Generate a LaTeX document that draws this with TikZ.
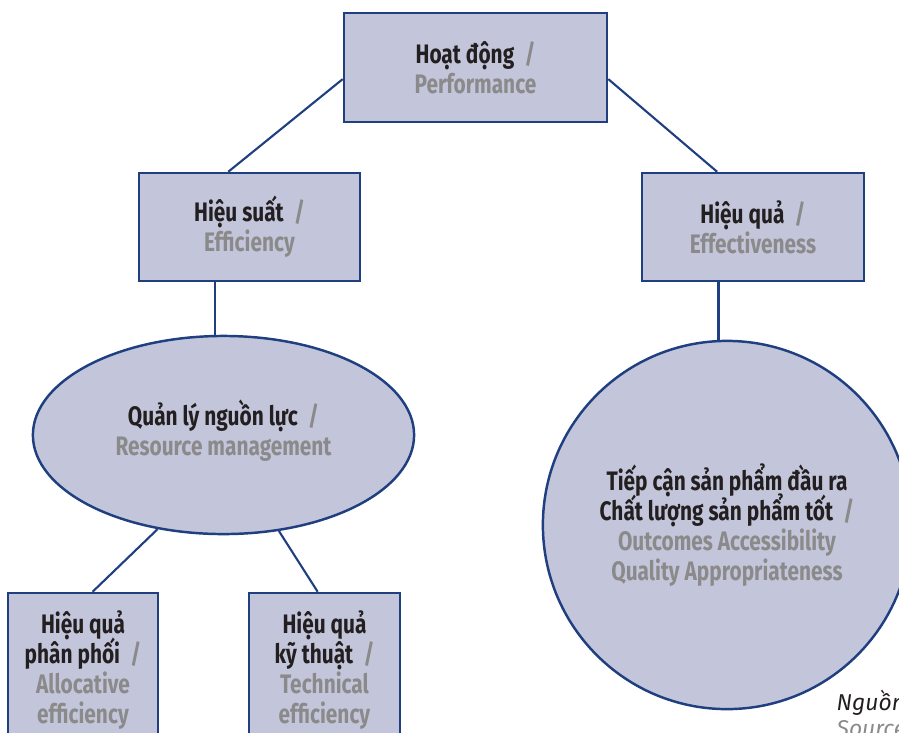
\documentclass[tikz,border=0pt]{standalone}
\usepackage{fontspec}
\setmainfont{Fira Sans}[FakeStretch=0.78]
\newfontfamily\srcfont{Fira Sans}
\usetikzlibrary{shapes.geometric}

\definecolor{edgeblue}{RGB}{31,63,128}
\definecolor{boxfill}{RGB}{195,198,219}
\definecolor{engray}{RGB}{138,138,138}
\definecolor{vnblack}{RGB}{35,31,32}

\newcommand{\grslash}{\hspace{0.2em}\textcolor{engray}{/}}
\newcommand{\boxfont}{\fontsize{7.6pt}{8.55pt}\selectfont\bfseries\lineskiplimit=-20pt\relax}

\begin{document}
\begin{tikzpicture}[
    x=0.01cm, y=-0.01cm,
    box node/.style={rectangle, draw=edgeblue, fill=boxfill, line width=0.7pt, inner sep=0pt, align=center, text=vnblack, font=\boxfont},
    oval node/.style={ellipse, draw=edgeblue, fill=boxfill, line width=0.7pt, inner sep=0pt, align=center, text=vnblack, font=\boxfont},
    round node/.style={circle, draw=edgeblue, fill=boxfill, line width=0.7pt, inner sep=0pt, align=center, text=vnblack, font=\boxfont},
    src node/.style={inner sep=0pt, font=\srcfont\fontsize{6.5pt}{7.5pt}\selectfont\itshape},
    link edge/.style={line width=0.6pt, draw=edgeblue}
]
\useasboundingbox (0,0) rectangle (899,732);
\clip (0,0) rectangle (899,732);

% Tầng trên: Hoạt động -> Hiệu suất / Hiệu quả
\node[box node, minimum width=2.63cm, minimum height=1.09cm] (HD) at (475.5, 67.5) {Hoạt động \grslash\\ \textcolor{engray}{Performance}};
\node[box node, minimum width=2.21cm, minimum height=1.08cm] (HS) at (249.5, 227) {Hiệu suất \grslash\\ \textcolor{engray}{Efficiency}};
\node[box node, minimum width=2.22cm, minimum height=1.08cm] (HQ) at (753, 227) {Hiệu quả \grslash\\ \textcolor{engray}{Effectiveness}};

% Tầng giữa: ellipse (chữ hơi lệch lên) và hình tròn
\node[oval node, minimum width=3.81cm, minimum height=1.98cm, text depth=4.4pt] (QL) at (223.5, 435) {Quản lý nguồn lực \grslash\\ \textcolor{engray}{Resource management}};
\node[round node, minimum size=3.68cm] (TC) at (727, 525) {Tiếp cận sản phẩm đầu ra\\ Chất lượng sản phẩm tốt \grslash\\ \textcolor{engray}{Outcomes Accessibility}\\ \textcolor{engray}{Quality Appropriateness}};

% Tầng dưới (bị cắt ở mép dưới)
\node[box node, minimum width=1.50cm, minimum height=1.54cm] (PP) at (83, 670) {Hiệu quả\\ phân phối \grslash\\ \textcolor{engray}{Allocative}\\ \textcolor{engray}{efficiency}};
\node[box node, minimum width=1.51cm, minimum height=1.54cm] (KT) at (324.5, 670) {Hiệu quả\\ kỹ thuật \grslash\\ \textcolor{engray}{Technical}\\ \textcolor{engray}{efficiency}};

% Nối các nút
\draw[link edge] (HD.185) -- (HS.111);
\draw[link edge] (HD.355) -- (HQ.123);
\draw[link edge] (HS.238) -- (HS.238 |- QL.north);
\draw[link edge] (HQ.238) -- (HQ.238 |- TC.north);
\draw[link edge] (QL.235) -- (PP.83);
\draw[link edge] (QL.300) -- (KT.95);

% Nguồn
\node[src node, anchor=base west, text=vnblack] (NG) at (836, 710) {Nguồn};
\node[src node, anchor=base west, text=engray] (SRC) at (836, 736) {Source};

\end{tikzpicture}
\end{document}
